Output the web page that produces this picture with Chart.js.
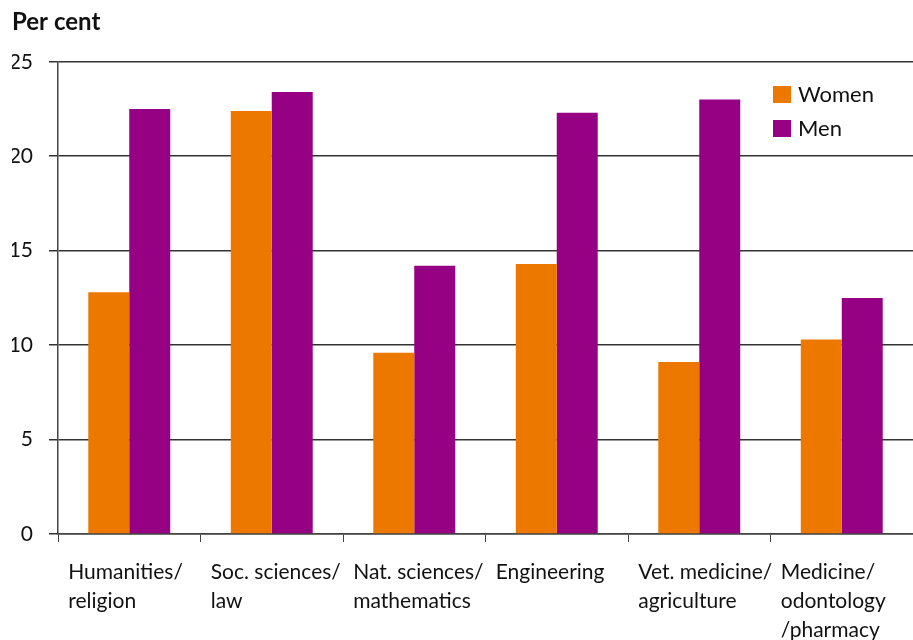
<!DOCTYPE html>
<html>
<head>
<meta charset="utf-8">
<script src="https://cdn.jsdelivr.net/npm/chart.js@4/dist/chart.umd.min.js"></script>
<style>
  html, body { margin: 0; padding: 0; background: #fff; overflow: hidden; }
  #wrap { width: 913px; height: 640px; }
</style>
</head>
<body>
<div id="wrap"><canvas id="chart"></canvas></div>
<script>
// data
const categories = [
    ['Humanities/', 'religion'],
    ['Soc. sciences/', 'law'],
    ['Nat. sciences/', 'mathematics'],
    ['Engineering'],
    ['Vet. medicine/', 'agriculture'],
    ['Medicine/', 'odontology', '/pharmacy']
];
const women = [12.8, 22.4, 9.6, 14.3, 9.1, 10.3];
const men = [22.5, 23.4, 14.2, 22.3, 23.0, 12.5];
const yTicks = [0, 5, 10, 15, 20, 25];

const FONT = 'Lato, "Open Sans", "DejaVu Sans", sans-serif';
const ORANGE = '#ec7800';
const PURPLE = '#960082';

// legend drawn inside the plot, top right
const insideLegend = {
    id: 'insideLegend',
    afterDraw(chart) {
        const ctx = chart.ctx;
        ctx.save();
        ctx.font = '22px ' + FONT;
        ctx.textBaseline = 'middle';
        ctx.textAlign = 'left';
        chart.data.datasets.forEach((ds, i) => {
            const y = 86 + i * 34;
            ctx.fillStyle = ds.backgroundColor;
            ctx.fillRect(773, y, 18, 17);
            ctx.fillStyle = '#111';
            ctx.fillText(ds.label, 798, y + 9);
        });
        ctx.restore();
    }
};

new Chart(document.getElementById('chart'), {
    type: 'bar',
    data: {
        labels: categories,
        datasets: [
            { label: 'Women', data: women, backgroundColor: ORANGE },
            { label: 'Men', data: men, backgroundColor: PURPLE }
        ]
    },
    options: {
        responsive: true,
        maintainAspectRatio: false,
        animation: false,
        layout: { padding: { left: 12, right: 0, top: 0, bottom: 0 } },
        plugins: {
            legend: { display: false },
            tooltip: { enabled: false },
            title: {
                display: true,
                text: 'Per cent',
                align: 'start',
                color: '#111',
                font: { family: FONT, size: 24, weight: 'bold' },
                padding: { top: 8, bottom: 25 }
            }
        },
        datasets: {
            bar: { categoryPercentage: 0.575, barPercentage: 1.0 }
        },
        scales: {
            x: {
                offset: true,
                grid: {
                    offset: true,
                    drawOnChartArea: false,
                    drawTicks: true,
                    tickLength: 8,
                    color: '#444',
                    lineWidth: 1
                },
                border: { display: true, color: '#444', width: 1.5 },
                ticks: {
                    align: 'start',
                    labelOffset: -61,
                    padding: 16,
                    maxRotation: 0,
                    autoSkip: false,
                    color: '#111',
                    font: { family: FONT, size: 21, lineHeight: 1.38 }
                },
                afterFit(axis) {
                    axis.height = 106;
                    axis.paddingLeft = 0;
                    axis.paddingRight = 0;
                }
            },
            y: {
                min: 0,
                max: 25,
                afterBuildTicks(axis) { axis.ticks = yTicks.map(v => ({ value: v })); },
                grid: {
                    color: '#333',
                    lineWidth: 1.5,
                    drawTicks: true,
                    tickLength: 9
                },
                border: { display: true, color: '#444', width: 1.5 },
                ticks: {
                    padding: 16,
                    color: '#111',
                    font: { family: FONT, size: 21 }
                },
                afterFit(axis) { axis.width = 46; }
            }
        }
    },
    plugins: [insideLegend]
});
</script>
</body>
</html>
